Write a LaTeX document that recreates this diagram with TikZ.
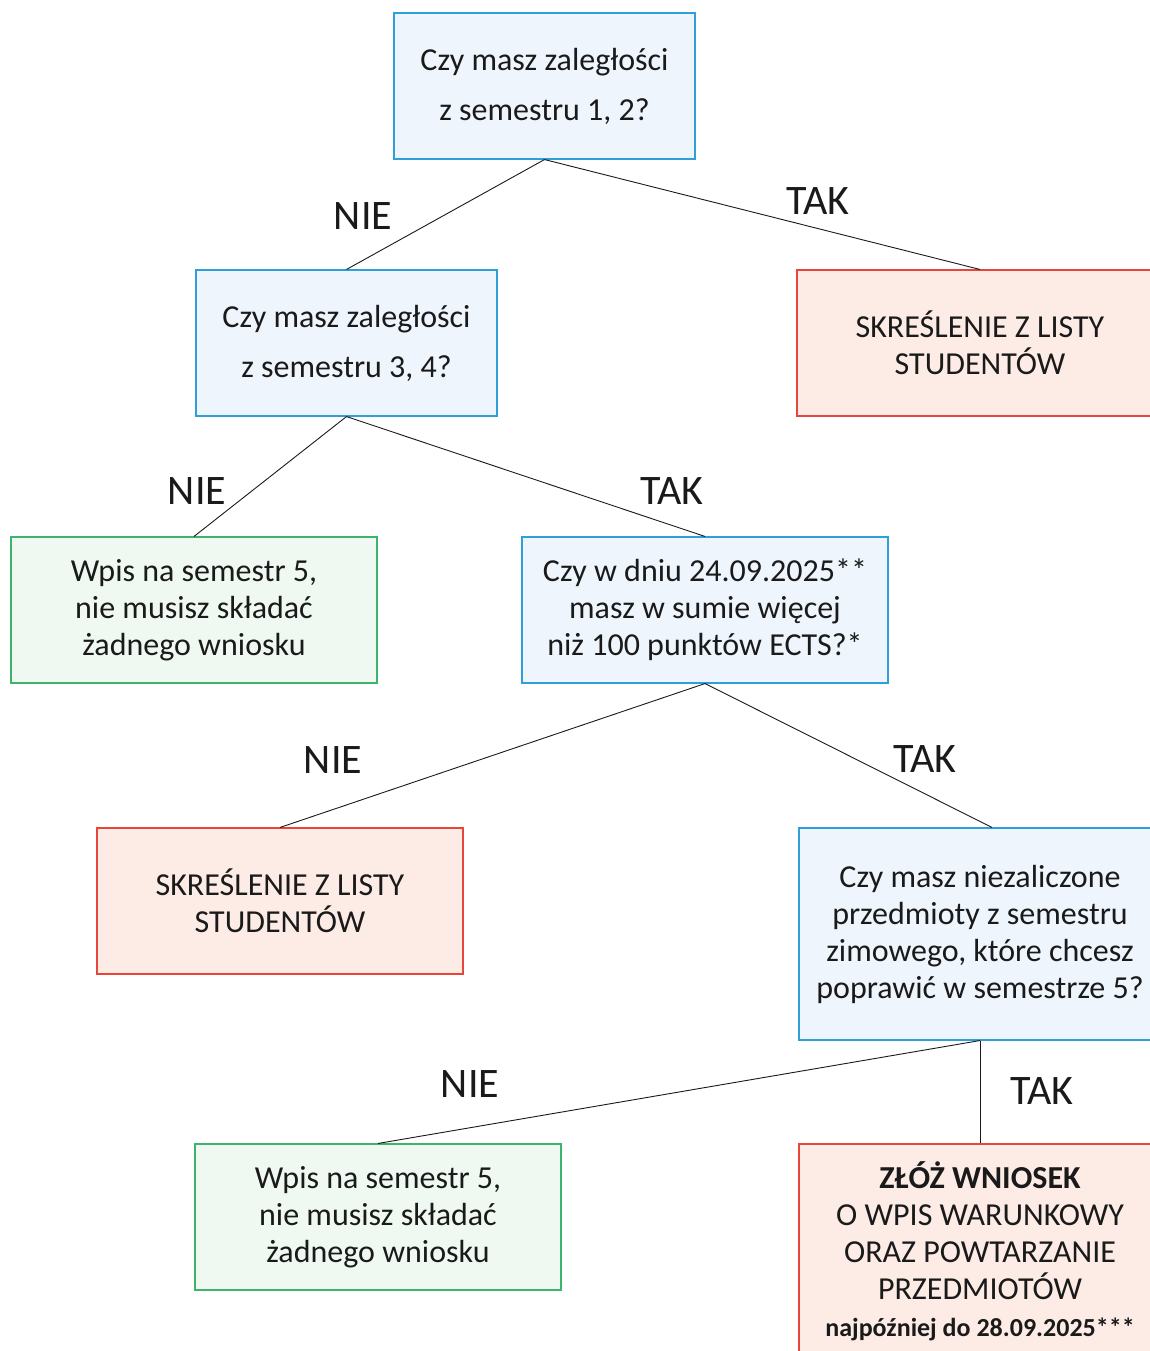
\documentclass[tikz,border=0pt]{standalone}
\usepackage{fontspec}
\setmainfont{Carlito}
\definecolor{bblue}{HTML}{2E9FD9}
\definecolor{fblue}{HTML}{EEF5FD}
\definecolor{bred}{HTML}{E8453C}
\definecolor{fred}{HTML}{FDECE6}
\definecolor{bgreen}{HTML}{3DB36B}
\definecolor{fgreen}{HTML}{EFF9F1}
\definecolor{ink}{HTML}{1A1A1A}
\begin{document}
\begin{tikzpicture}[x=1pt,y=-1pt,
  box/.style={draw, line width=1.1pt, align=center, inner sep=0pt, text=ink,
    font=\fontsize{32}{37}\selectfont},
  qbox/.style={box, draw=bblue, fill=fblue},
  rbox/.style={box, draw=bred, fill=fred},
  gbox/.style={box, draw=bgreen, fill=fgreen},
  lbl/.style={font=\fontsize{42}{44}\selectfont, text=ink},
  conn/.style={draw=ink, line width=0.9pt}]
\useasboundingbox (0,0) rectangle (1150,1351);
\clip (0,0) rectangle (1150,1351);
\fill[white] (0,0) rectangle (1150,1351);

\node[qbox, minimum width=301, minimum height=146, font=\fontsize{32}{50}\selectfont] (q1) at (544.5,86) {Czy masz zaległości\\z semestru 1, 2?};
\node[qbox, minimum width=301, minimum height=146, font=\fontsize{32}{50}\selectfont] (q2) at (346.5,343) {Czy masz zaległości\\z semestru 3, 4?};
\node[rbox, minimum width=366, minimum height=146] (r1) at (980,343) {SKREŚLENIE Z LISTY\\STUDENTÓW};
\node[gbox, minimum width=366, minimum height=146] (g1) at (194,610) {Wpis na semestr 5,\\nie musisz składać\\żadnego wniosku};
\node[qbox, minimum width=366, minimum height=146] (q3) at (705,610) {Czy w dniu 24.09.2025**\\masz w sumie więcej\\niż 100 punktów ECTS?*};
\node[rbox, minimum width=366, minimum height=146] (r2) at (280,901) {SKREŚLENIE Z LISTY\\STUDENTÓW};
\node[qbox, minimum width=362, minimum height=212] (q4) at (980,934) {Czy masz niezaliczone\\przedmioty z semestru\\zimowego, które chcesz\\poprawić w semestrze 5?};
\node[gbox, minimum width=366, minimum height=146] (g2) at (378,1217) {Wpis na semestr 5,\\nie musisz składać\\żadnego wniosku};
\node[rbox, minimum width=362, minimum height=214] (r3) at (980,1251) {\textbf{ZŁÓŻ WNIOSEK}\\O WPIS WARUNKOWY\\ORAZ POWTARZANIE\\PRZEDMIOTÓW\\{\fontsize{26}{37}\selectfont\textbf{najpóźniej do 28.09.2025***}}};

\draw[conn] (q1.south) -- (q2.north);
\draw[conn] (q1.south) -- (r1.north);
\draw[conn] (q2.south) -- (g1.north);
\draw[conn] (q2.south) -- (q3.north);
\draw[conn] (q3.south) -- (r2.north);
\draw[conn] (q3.south) -- ([xshift=12pt]q4.north);
\draw[conn] (q4.south) -- (g2.north);
\draw[conn] (q4.south) -- (r3.north);

\node[lbl] (l1) at (363,216) {NIE};
\node[lbl] (l2) at (818,201) {TAK};
\node[lbl] (l3) at (197,491) {NIE};
\node[lbl] (l4) at (672,491) {TAK};
\node[lbl] (l5) at (333,760) {NIE};
\node[lbl] (l6) at (925,759) {TAK};
\node[lbl] (l7) at (470,1084) {NIE};
\node[lbl] (l8) at (1042,1091) {TAK};
\end{tikzpicture}
\end{document}
